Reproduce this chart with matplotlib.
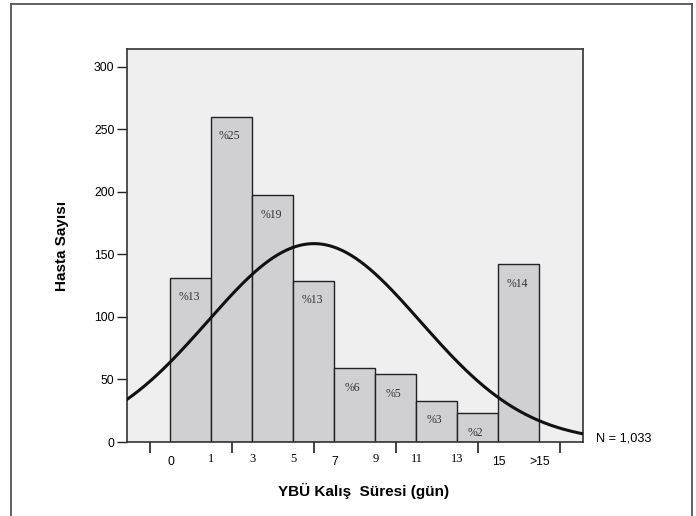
import numpy as np
import matplotlib
matplotlib.use("Agg")
import matplotlib.pyplot as plt
from matplotlib.lines import Line2D

# bins (bar index 0..8), edge labels as printed under the axis
edge_labels = ['0', '1', '3', '5', '7', '9', '11', '13', '15', '>15']
serif_labels = ['1', '3', '5', '9', '11', '13']
counts = [131, 260, 197, 129, 59, 54, 33, 23, 142]
pct_labels = ['%13', '%25', '%19', '%13', '%6', '%5', '%3', '%2', '%14']
major_ticks = [-1, 1, 3, 5, 7, 9]
y_ticks = [0, 50, 100, 150, 200, 250, 300]

# normal curve overlay (in bar index units)
curve_mean = 3.0
curve_sd = 2.6
n_total = 1033

fig = plt.figure(figsize=(6.96, 5.16), dpi=100)
fig.patch.set_facecolor('white')

# outer frame (left, top, right only - bottom is cut off)
for xs, ys in [([0.0158, 0.0158], [0, 0.9922]),
               ([0.0158, 0.9943], [0.9922, 0.9922]),
               ([0.9943, 0.9943], [0, 0.9922])]:
    fig.add_artist(Line2D(xs, ys, color='#555555', lw=1.3, transform=fig.transFigure))

ax = fig.add_axes([0.1825, 0.1434, 0.655, 0.7616])
ax.set_facecolor('#efefef')

x = np.arange(len(counts))
ax.bar(x, counts, width=1.0, color='#d0d0d2', edgecolor='#222222', linewidth=1.0, zorder=2)

for xi, c, p in zip(x, counts, pct_labels):
    ax.annotate(p, (xi - 0.05, c), xytext=(0, -14), textcoords='offset points',
                ha='center', va='center', fontsize=8.5, family='Liberation Serif',
                color='#333333', zorder=3)

xlim = (-1.56, 9.56)
xc = np.linspace(xlim[0], xlim[1], 300)
yc = n_total / (curve_sd * np.sqrt(2 * np.pi)) * np.exp(-(xc - curve_mean) ** 2 / (2 * curve_sd ** 2))
ax.plot(xc, yc, color='#111111', lw=2.2, zorder=4)

ax.set_xlim(*xlim)
ax.set_ylim(0, 314)

for s in ax.spines.values():
    s.set_color('#333333')
    s.set_linewidth(1.2)

ax.set_yticks(y_ticks)
ax.set_yticklabels([str(v) for v in y_ticks], fontsize=8.8, family='Liberation Sans')
ax.tick_params(axis='y', length=7, width=1.0, color='#222222', pad=2)

ax.set_xticks(major_ticks)
ax.set_xticklabels([''] * len(major_ticks))
ax.tick_params(axis='x', which='major', length=8, width=1.2, color='#222222')

edges = np.arange(len(edge_labels)) - 0.5
ax.set_xticks(edges, minor=True)
ax.set_xticklabels(edge_labels, minor=True)
ax.tick_params(axis='x', which='minor', length=0, pad=10)
for t in ax.get_xticklabels(minor=True):
    if t.get_text() in serif_labels:
        t.set_family('Liberation Serif')
        t.set_fontsize(9)
        t.set_y(0.008)
    else:
        t.set_family('Liberation Sans')
        t.set_fontsize(8.8)

ax.set_ylabel('Hasta Sayısı', fontsize=11, fontweight='bold', family='Liberation Sans')
ax.yaxis.set_label_coords(-0.127, 0.5)
ax.set_xlabel('YBÜ Kalış  Süresi (gün)', fontsize=11, fontweight='bold', family='Liberation Sans')
ax.xaxis.set_label_coords(0.518, -0.105)

fig.text(0.856, 0.151, 'N = 1,033', fontsize=9.2, family='Liberation Sans', va='center', ha='left')

fig.savefig('out.png', dpi=100)
